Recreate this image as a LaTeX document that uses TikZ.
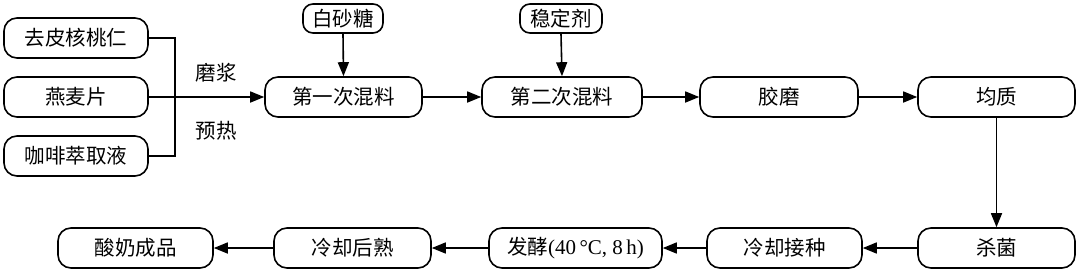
\documentclass[tikz,border=0pt]{standalone}
\usepackage{fontspec}
\setmainfont{Liberation Serif}
\newfontfamily\cjk{Noto Sans CJK SC}
\usetikzlibrary{arrows.meta}
\begin{document}
\begin{tikzpicture}[x=1pt,y=-1pt,
  box/.style={draw,line width=1.6pt,rounded corners=13pt,inner sep=0pt,minimum height=40pt,font=\fontsize{20.5}{20.5}\selectfont\cjk},
  sbox/.style={draw,line width=1.6pt,rounded corners=10pt,inner sep=0pt,minimum height=29pt,font=\fontsize{20.5}{20.5}\selectfont\cjk},
  lab/.style={inner sep=0pt,font=\fontsize{20.5}{20.5}\selectfont\cjk},
  conn/.style={line width=1.6pt},
  arr/.style={conn,-{Triangle[length=14pt,width=11pt]}}]
\useasboundingbox (0,0) rectangle (1080,276);
\node[box,minimum width=144pt] (w1) at (76,38) {去皮核桃仁};
\node[box,minimum width=144pt] (w2) at (76,97) {燕麦片};
\node[box,minimum width=144pt] (w3) at (76,156) {咖啡萃取液};
\node[box,minimum width=157pt] (m1) at (343.5,97) {第一次混料};
\node[sbox,minimum width=80pt] (s1) at (343,18.5) {白砂糖};
\node[box,minimum width=160pt] (m2) at (562,97) {第二次混料};
\node[sbox,minimum width=82pt] (s2) at (561,18.5) {稳定剂};
\node[box,minimum width=158pt] (jm) at (779,97) {胶磨};
\node[box,minimum width=157pt] (jz) at (996.5,97) {均质};
\node[box,minimum width=157pt] (sj) at (996.5,248) {杀菌};
\node[box,minimum width=155pt] (lj) at (784.5,248) {冷却接种};
\node[box,minimum width=173pt] (fj) at (575.5,248) {发酵{\rmfamily\fontsize{21}{21}\selectfont(40\,°C, 8\,h)}};
\node[box,minimum width=157pt] (lh) at (352.5,248) {冷却后熟};
\node[box,minimum width=155pt] (sn) at (135.5,248) {酸奶成品};
\coordinate (jx) at (175,97);
\node[lab] (l1) at (216,73) {磨浆};
\node[lab] (l2) at (216,131) {预热};
\draw[conn] (w1.east) -| (jx);
\draw[conn] (w3.east) -| (jx);
\draw[arr] (w2.east) -- (m1.west);
\draw[arr] (s1.south) -- (m1.north);
\draw[arr] (s2.south) -- (m2.north);
\draw[arr] (m1) -- (m2);
\draw[arr] (m2) -- (jm);
\draw[arr] (jm) -- (jz);
\draw[arr] (jz) -- (sj);
\draw[arr] (sj) -- (lj);
\draw[arr] (lj) -- (fj);
\draw[arr] (fj) -- (lh);
\draw[arr] (lh) -- (sn);
\end{tikzpicture}
\end{document}
